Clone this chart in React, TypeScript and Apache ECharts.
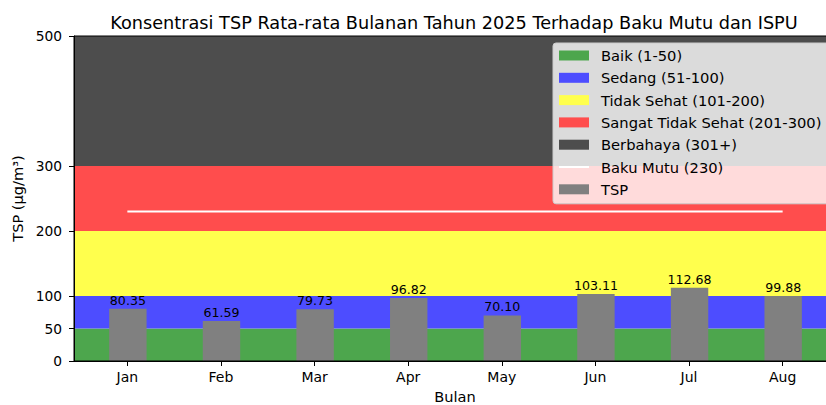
import React, { useEffect, useRef } from "react";
import * as echarts from "echarts";

const months = ["Jan", "Feb", "Mar", "Apr", "May", "Jun", "Jul", "Aug"];
const tspValues = [80.35, 61.59, 79.73, 96.82, 70.1, 103.11, 112.68, 99.88];
const yTicks = [0, 50, 100, 200, 300, 500];
const bandNames = ["Baik (1-50)", "Sedang (51-100)", "Tidak Sehat (101-200)", "Sangat Tidak Sehat (201-300)", "Berbahaya (301+)"];
const bandRanges: [number, number][] = [[0, 50], [50, 100], [100, 200], [200, 300], [300, 500]];
const bandColors = ["#4da64d", "#4d4dff", "#ffff4d", "#ff4d4d", "#4d4d4d"];
const bakuMutu = 230;

const FONT = "DejaVu Sans";

export default function App() {
  const ref = useRef<HTMLDivElement>(null);
  useEffect(() => {
    if (!ref.current) return;
    const chart = echarts.init(ref.current, undefined, { renderer: "svg" });
    const bandSeries = bandNames.map((name, i) => ({
      name,
      type: "bar",
      data: [],
      z: 1,
      itemStyle: { color: bandColors[i] },
      markArea: {
        silent: true,
        itemStyle: { color: bandColors[i], opacity: 1 },
        data: [[{ yAxis: bandRanges[i][0] }, { yAxis: bandRanges[i][1] }]],
      },
    }));
    chart.setOption({
      animation: false,
      textStyle: { fontFamily: FONT },
      title: {
        text: "Konsentrasi TSP Rata-rata Bulanan Tahun 2025 Terhadap Baku Mutu dan ISPU",
        left: 449,
        textAlign: "center",
        top: 9,
        textStyle: { fontFamily: FONT, fontSize: 17.7, fontWeight: "normal", color: "#000" },
      },
      grid: {
        left: 74,
        top: 36,
        bottom: 44,
        right: -10,
        outerBoundsMode: "none",
        containLabel: false,
        show: true,
        borderColor: "#000",
        borderWidth: 1,
        backgroundColor: "transparent",
        z: 10,
      },
      legend: {
        orient: "vertical",
        left: 553,
        top: 43,
        selectedMode: false,
        backgroundColor: "rgba(255,255,255,0.8)",
        borderColor: "#cccccc",
        borderWidth: 1,
        borderRadius: 3,
        padding: [4, 8, 6, 5],
        itemWidth: 30,
        itemHeight: 10,
        itemGap: 5.3,
        textStyle: { fontFamily: FONT, fontSize: 14.7, lineHeight: 17, color: "#000", padding: [0, 0, 0, 7] },
        data: [
          ...bandNames.map((n) => ({ name: n, icon: "rect" })),
          { name: "Baku Mutu (230)", itemStyle: { opacity: 0 } },
          { name: "TSP", icon: "rect" },
        ],
        z: 20,
      },
      xAxis: {
        type: "value",
        min: -0.57,
        max: 7.57,
        name: "Bulan",
        nameLocation: "middle",
        nameGap: 28,
        nameTextStyle: { fontFamily: FONT, fontSize: 14.6, color: "#000" },
        axisLine: { show: true, onZero: false, lineStyle: { color: "#000" } },
        axisTick: { show: true, length: 5, lineStyle: { color: "#000" }, customValues: months.map((_, i) => i) },
        axisLabel: {
          fontFamily: FONT,
          fontSize: 14,
          color: "#000",
          margin: 9,
          customValues: months.map((_, i) => i),
          formatter: (v: number) => months[Math.round(v)] ?? "",
        },
        splitLine: { show: false },
        z: 10,
      },
      yAxis: {
        type: "value",
        min: 0,
        max: 500,
        name: "TSP (µg/m³)",
        nameLocation: "middle",
        nameGap: 48,
        nameTextStyle: { fontFamily: FONT, fontSize: 14.6, color: "#000" },
        axisLine: { show: true, onZero: false, lineStyle: { color: "#000" } },
        axisTick: { show: true, length: 5, lineStyle: { color: "#000" }, customValues: yTicks },
        axisLabel: { fontFamily: FONT, fontSize: 13.8, color: "#000", margin: 12, customValues: yTicks },
        splitLine: { show: false },
        z: 10,
      },
      series: [
        ...bandSeries,
        {
          name: "Baku Mutu (230)",
          type: "line",
          z: 4,
          symbol: "none",
          lineStyle: { color: "#ffffff", width: 2 },
          itemStyle: { color: "#ffffff" },
          data: [[0, bakuMutu], [months.length - 1, bakuMutu]],
        },
        {
          name: "TSP",
          type: "bar",
          z: 3,
          barWidth: 37.4,
          itemStyle: { color: "#808080" },
          label: {
            show: true,
            position: "top",
            distance: 2,
            fontFamily: FONT,
            fontSize: 12.6,
            color: "#000",
            formatter: (p: any) => Number(p.value[1]).toFixed(2),
          },
          data: tspValues.map((v, i) => [i, v]),
        },
      ],
    });
    return () => chart.dispose();
  }, []);
  return <div ref={ref} style={{ width: 826, height: 405, position: "absolute", left: 0, top: 0 }} />;
}
